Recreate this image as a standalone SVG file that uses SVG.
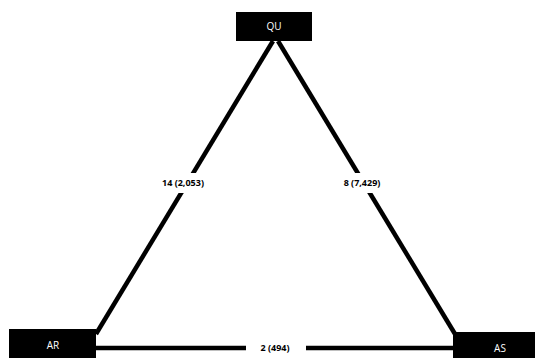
<svg xmlns="http://www.w3.org/2000/svg" width="535" height="358" viewBox="0 0 535 358">
<style>
.box{fill:#000}
.nt{fill:#fff;font-family:"Open Sans","Liberation Sans",sans-serif;font-size:10px;text-anchor:middle}
.edge{stroke:#000;stroke-width:4.5;fill:none}
.lb{fill:#fff}
.lt{fill:#000;font-family:"Open Sans","Liberation Sans",sans-serif;font-size:9px;font-weight:bold;text-anchor:middle}
</style>
<rect width="535" height="358" fill="#fff"/>
<g id="connectors">
<line class="edge" x1="96" y1="334" x2="273" y2="41"/>
<line class="edge" x1="278" y1="41" x2="455" y2="334"/>
<line class="edge" x1="96" y1="348" x2="453" y2="348"/>
<rect class="lb" x="150" y="173" width="66" height="20"/>
<text class="lt" x="183" y="186">14 (2,053)</text>
<rect class="lb" x="332" y="173" width="62" height="20"/>
<text class="lt" x="362" y="186">8 (7,429)</text>
<rect class="lb" x="246" y="340" width="60" height="16"/>
<text class="lt" x="275" y="351">2 (494)</text>
</g>
<g id="QU">
<rect class="box" x="236" y="12" width="76" height="29"/>
<text class="nt" x="274" y="30">QU</text>
</g>
<g id="AR">
<rect class="box" x="9" y="329" width="87" height="32"/>
<text class="nt" x="53" y="349">AR</text>
</g>
<g id="AS">
<rect class="box" x="453" y="332" width="85" height="30"/>
<text class="nt" x="500" y="352">AS</text>
</g>
</svg>
